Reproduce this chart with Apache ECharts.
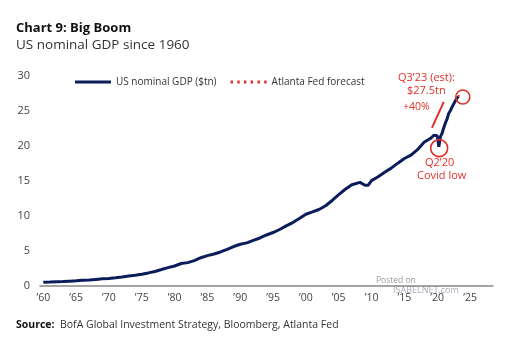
<!DOCTYPE html>
<html>
<head>
<meta charset="utf-8">
<script src="https://cdn.jsdelivr.net/npm/echarts@6/dist/echarts.min.js"></script>
<style>
html,body{margin:0;padding:0;background:#fff;}
#c{width:518px;height:338px;}
</style>
</head>
<body>
<div id="c"></div>
<script>
// US nominal GDP ($tn), decimal year positions
const gdpYears = [1960,1961,1962,1963,1964,1965,1966,1967,1968,1969,1970,1971,1972,1973,1974,1975,1976,1977,1978,1979,1980,1981,1982,1983,1984,1985,1986,1987,1988,1989,1990,1991,1992,1993,1994,1995,1996,1997,1998,1999,2000,2001,2002,2003,2004,2005,2006,2007,2008.25,2008.5,2009.0,2009.25,2009.5,2010,2011,2012,2013,2014,2015,2016,2017,2018,2019,2019.25,2019.5,2019.75,2020,2020.25,2020.5,2020.75,2021,2021.25,2021.5,2021.75,2022,2022.25,2022.5,2022.75,2023,2023.25];
const gdpValues = [0.54,0.56,0.60,0.64,0.69,0.74,0.82,0.86,0.94,1.02,1.07,1.17,1.28,1.43,1.55,1.68,1.87,2.08,2.35,2.63,2.86,3.21,3.34,3.63,4.04,4.34,4.58,4.86,5.24,5.64,5.96,6.16,6.52,6.86,7.29,7.64,8.07,8.58,9.06,9.63,10.25,10.58,10.93,11.46,12.22,13.04,13.82,14.47,14.80,14.84,14.40,14.38,14.40,15.05,15.60,16.25,16.84,17.55,18.21,18.70,19.48,20.53,21.10,21.33,21.54,21.69,21.48,19.90,21.35,21.85,22.60,23.29,23.83,24.65,25.03,25.54,25.99,26.41,26.81,27.06];
const forecastYears = [2023.25,2023.5];
const forecastValues = [27.06,27.5];
const xTickYears = [1960,1965,1970,1975,1980,1985,1990,1995,2000,2005,2010,2015,2020,2025];
const yTicks = [0,5,10,15,20,25,30];

const navy = '#0b1c5a';
const red = '#e0302b';
const FONT = '"Open Sans", sans-serif';

let dotPath = 'path://';
for (let i = 0; i < 6; i++) { const x = i * 7; dotPath += 'M' + x + ',0h2.5v3h-2.5z'; }

const chart = echarts.init(document.getElementById('c'), null, {renderer:'canvas'});
chart.setOption({
  animation:false,
  backgroundColor:'#fff',
  textStyle:{fontFamily:FONT},
  title:{
    text:'Chart 9: Big Boom',
    subtext:'US nominal GDP since 1960',
    left:11, top:17, itemGap:3,
    textStyle:{fontFamily:FONT,fontSize:13,fontWeight:'bold',color:'#111'},
    subtextStyle:{fontFamily:FONT,fontSize:13.5,color:'#333'}
  },
  legend:{
    left:70, top:72, itemWidth:36, itemHeight:3, itemGap:14,
    textStyle:{fontFamily:FONT,fontSize:10,color:'#333'},
    data:[
      {name:'US nominal GDP ($tn)',icon:'path://M0,0H36V3H0Z'},
      {name:'Atlanta Fed forecast',icon:dotPath}
    ]
  },
  grid:{left:40,right:25,top:76,bottom:52,containLabel:false},
  xAxis:{
    type:'value', min:1959.5, max:2028.5,
    axisLine:{show:true,lineStyle:{color:'#888',width:1.5}},
    axisTick:{show:false},
    splitLine:{show:false},
    axisLabel:{
      customValues:xTickYears, margin:7,
      color:'#444', fontSize:10.5, fontFamily:FONT,
      formatter:v=>'\u2019'+String(v).slice(2)
    }
  },
  yAxis:{
    type:'value', min:0, max:30, interval:5,
    axisLine:{show:false}, axisTick:{show:false}, splitLine:{show:false},
    axisLabel:{color:'#444',fontSize:11,fontFamily:FONT,margin:10}
  },
  series:[
    {
      name:'US nominal GDP ($tn)', type:'line', symbol:'none',
      data:gdpYears.map((y,i)=>[y,gdpValues[i]]),
      lineStyle:{color:navy,width:3}, itemStyle:{color:navy},
      z:3,
      markLine:{
        silent:true, symbol:['none','arrow'], symbolSize:[0,12],
        lineStyle:{color:red,width:2,type:'solid'},
        label:{show:false},
        data:[[{coord:[2019.2,22.6]},{coord:[2021.0,26.3]}]]
      },
      markPoint:{
        silent:true, symbol:'circle',
        itemStyle:{color:'rgba(0,0,0,0)',borderColor:red,borderWidth:1.6},
        label:{show:false},
        data:[
          {coord:[2020.3,19.7],symbolSize:17},
          {coord:[2023.9,27.0],symbolSize:14}
        ]
      }
    },
    {
      name:'Atlanta Fed forecast', type:'line', symbol:'none',
      data:forecastYears.map((y,i)=>[y,forecastValues[i]]),
      lineStyle:{color:red,width:2,type:[1.5,3]}, itemStyle:{color:red},
      z:4
    }
  ],
  graphic:[
    {type:'text',left:398,top:72,style:{text:'Q3\u201923 (est):',fill:red,font:'11px '+FONT}},
    {type:'text',left:407,top:85,style:{text:'$27.5tn',fill:red,font:'11px '+FONT}},
    {type:'text',left:403,top:102,style:{text:'+40%',fill:red,font:'10.5px '+FONT}},
    {type:'text',left:425,top:157,style:{text:'Q2\u201920',fill:red,font:'11px '+FONT}},
    {type:'text',left:417,top:170,style:{text:'Covid low',fill:red,font:'11px '+FONT}},
    {type:'text',left:376,top:276,style:{text:'Posted on',fill:'#999',font:'8.5px '+FONT}},
    {type:'text',left:393,top:286,style:{text:'ISABELNET.com',fill:'#aab',font:'9px '+FONT}},
    {type:'text',left:16,top:320,style:{
      rich:{b:{fontWeight:'bold',fontSize:10.5,fill:'#111',fontFamily:FONT},n:{fontSize:10.5,fill:'#333',fontFamily:FONT}},
      text:'{b|Source:}{n|  BofA Global Investment Strategy, Bloomberg, Atlanta Fed}'
    }}
  ]
});
</script>
</body>
</html>
